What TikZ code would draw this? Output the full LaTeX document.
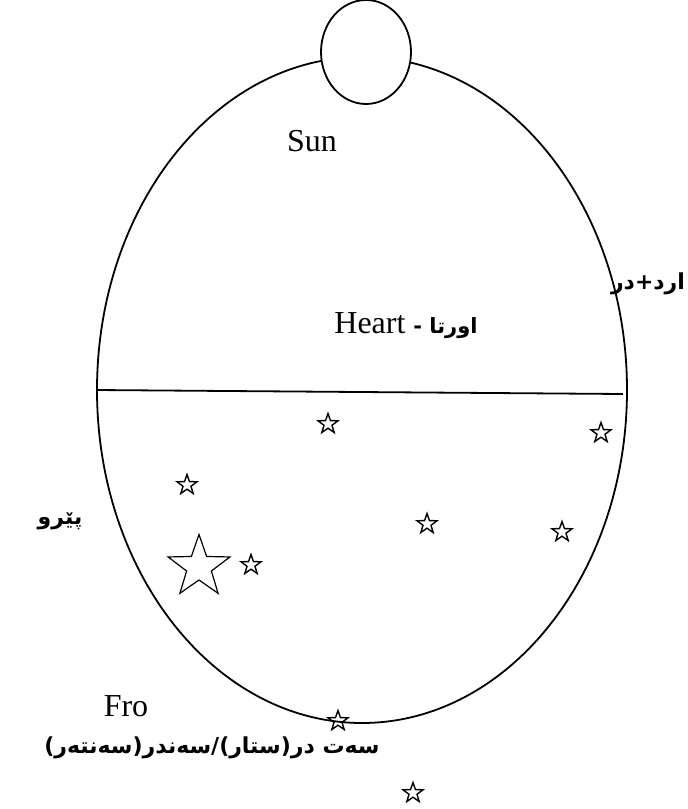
\documentclass[tikz,border=0pt]{standalone}
\usepackage{fontspec}
\setmainfont{Liberation Serif}
\newfontfamily\kurdfont[Script=Arabic]{DejaVu Sans}
\TeXXeTstate=1
\usetikzlibrary{shapes.geometric}

\begin{document}
\begin{tikzpicture}[
        x=1pt, y=-1pt,
        every node/.style={inner sep=0pt},
        latin/.style={font=\fontsize{32}{32}\selectfont},
        kurd/.style={font=\kurdfont\bfseries\fontsize{22}{22}\selectfont},
        tinystar/.style={star, star points=5, star point ratio=2.5,
                         draw, line width=1.4pt, minimum size=21pt},
        bigstar/.style={star, star points=5, star point ratio=2.5,
                        draw, line width=1.2pt, minimum size=65pt}
    ]
        \useasboundingbox (0,0) rectangle (688,809);

        % body and sun
        \node[ellipse, draw, line width=1.8pt, minimum width=530pt,
              minimum height=666pt] (body) at (362,390) {};
        \node[ellipse, draw, fill=white, line width=1.8pt, minimum width=90pt,
              minimum height=104pt] (sun) at (366,52) {};
        \draw[line width=1.8pt] (body.west) -- ([xshift=-5pt, yshift=-4pt]body.east);

        % labels
        \node[latin] (sunlbl) at (312,141) {Sun};
        \node[latin] (heart) at (406,326) {Heart {\kurdfont\bfseries\fontsize{21}{21}\selectfont - \beginR اورتا\endR}};
        \node[kurd] (ard) at (648,284) {\beginR ارد+در\endR};
        \node[kurd] (piro) at (60,521) {\beginR پێرو\endR};
        \node[latin] (fro) at (126,706) {Fro};
        \node[kurd] (sat) at (212,748) {\beginR سەت در(ستار)/سەندر(سەنتەر)\endR};

        % stars
        \node[tinystar] (s1) at (328,424) {};
        \node[tinystar] (s2) at (187,485) {};
        \node[tinystar] (s3) at (601,433) {};
        \node[tinystar] (s4) at (427,524) {};
        \node[tinystar] (s5) at (562,532) {};
        \node[tinystar] (s6) at (251,565) {};
        \node[bigstar] (big) at (199,567) {};
        \node[tinystar] (s7) at (338,721) {};
        \node[tinystar] (s8) at (413,793) {};
    \end{tikzpicture}
\end{document}
